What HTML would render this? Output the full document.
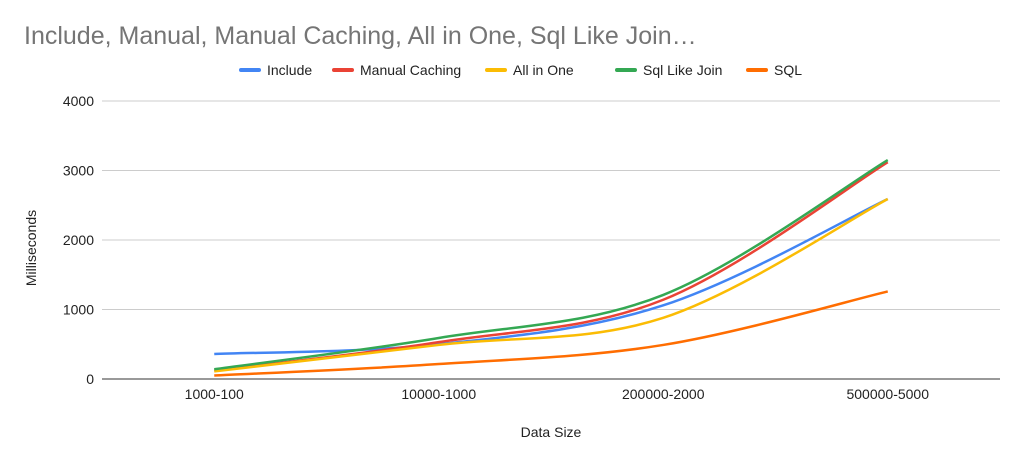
<!DOCTYPE html>
<html><head><meta charset="utf-8"><style>
body{margin:0;background:#fff;font-family:"Liberation Sans",sans-serif;}
svg text{font-family:"Liberation Sans",sans-serif;}
</style></head><body>
<svg id="chart" width="1024" height="463">
<text x="24" y="44" font-size="25" fill="#757575">Include, Manual, Manual Caching, All in One, Sql Like Join…</text>
<g id="legend"></g>
<g id="grid"></g>
<g id="lines"></g>
<text x="551" y="437" font-size="14" text-anchor="middle" fill="#222">Data Size</text>
<text transform="translate(36,248) rotate(-90)" font-size="14" text-anchor="middle" fill="#222">Milliseconds</text>
</svg>
<script>
const categories=["1000-100","10000-1000","200000-2000","500000-5000"];
const seriesNames=["Include","Manual Caching","All in One","Sql Like Join","SQL"];
const colors=["#4285f4","#ea4335","#fbbc04","#34a853","#ff6d01"];
const includeVals=[360,500,1060,2590];
const manualCachingVals=[120,530,1140,3120];
const allInOneVals=[110,490,880,2590];
const sqlLikeJoinVals=[140,590,1210,3150];
const sqlVals=[50,215,490,1260];
const yTicks=[0,1000,2000,3000,4000];
const allSeries=[includeVals,manualCachingVals,allInOneVals,sqlLikeJoinVals,sqlVals];
const NS="http://www.w3.org/2000/svg";
const x0=102,x1=1000,y0=379,y1=101;
function xs(i){return x0+(x1-x0)*(i+0.5)/categories.length;}
function ys(v){return y0-(v/4000)*(y0-y1);}
function mk(t,a,p){const e=document.createElementNS(NS,t);for(const k in a)e.setAttribute(k,a[k]);p.appendChild(e);return e;}
const grid=document.getElementById('grid');
yTicks.forEach(v=>{
 const l=mk('line',{x1:x0,x2:x1,y1:ys(v),y2:ys(v),stroke:v===0?'#333':'#ccc','stroke-width':1},grid);
 
 
 const t=mk('text',{x:94,y:ys(v)+5,'font-size':14,'text-anchor':'end',fill:'#222'},grid);
 t.textContent=v;
 
 
});
categories.forEach((c,i)=>{
 const t=mk('text',{x:xs(i),y:399,'font-size':14,'text-anchor':'middle',fill:'#222'},grid);
 t.textContent=c;
 
 
});
function pathFor(vals){
 const p=vals.map((v,i)=>[xs(i),ys(v)]);
 let d='M'+p[0][0]+','+p[0][1];
 for(let i=0;i<p.length-1;i++){
  const a=p[Math.max(0,i-1)],b=p[i],c=p[i+1],e=p[Math.min(p.length-1,i+2)];
  const t=0.17;
  const c1=[b[0]+(c[0]-a[0])*t,b[1]+(c[1]-a[1])*t];
  const c2=[c[0]-(e[0]-b[0])*t,c[1]-(e[1]-b[1])*t];
  d+=' C'+c1+' '+c2+' '+c;
 }
 return d;
}
const lines=document.getElementById('lines');
allSeries.forEach((s,k)=>{
 const p=mk('path',{d:pathFor(s),fill:'none',stroke:colors[k],'stroke-width':2.5},lines);
 
 
});
const legend=document.getElementById('legend');
const lx=[241,334,487,617,748];
seriesNames.forEach((n,k)=>{
 const g=mk('g',{},legend);
 
 
 mk('line',{x1:lx[k],x2:lx[k]+18,y1:70,y2:70,stroke:colors[k],'stroke-width':4,'stroke-linecap':'round'},g);
 const t=mk('text',{x:lx[k]+26,y:75,'font-size':14,fill:'#222'},g);
 t.textContent=n;
});
</script>
</body></html>
